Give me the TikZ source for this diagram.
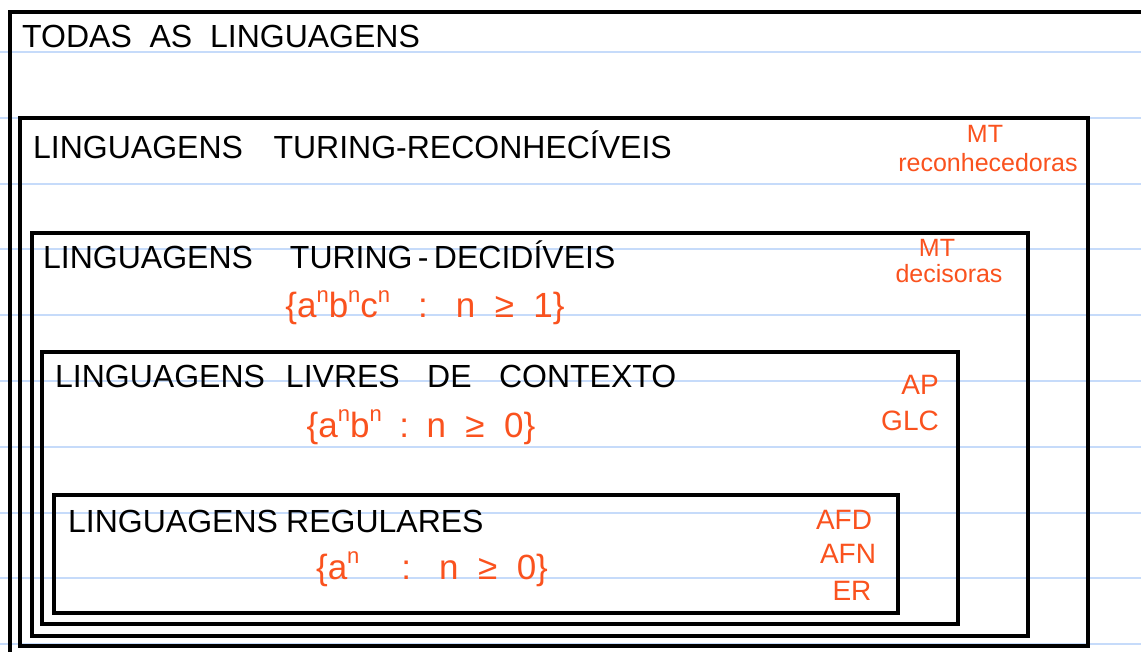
\documentclass[tikz,border=0pt]{standalone}
\usepackage{fontspec}
\usepackage{tikz}
\setmainfont{Liberation Sans}[WordSpace=2]
\definecolor{laranja}{RGB}{250, 82, 30}
\definecolor{pautaazul}{RGB}{198, 219, 250}
\newcommand{\pw}[1]{\raisebox{0.45em}{\fontsize{22}{22}\selectfont #1}}

\begin{document}
\begin{tikzpicture}[x=1pt, y=-1pt,
  caixa/.style={draw, line width=3.2pt, inner sep=0pt, outer sep=0pt},
  titulo/.style={anchor=base west, inner sep=0pt, font=\fontsize{32}{38}\selectfont},
  nota/.style={anchor=base, inner sep=0pt, text=laranja, font=\fontsize{28}{32}\selectfont},
  mini/.style={nota, font=\fontsize{25}{28}\selectfont},
  conj/.style={anchor=base, inner sep=0pt, text=laranja, font=\fontsize{35}{40}\selectfont}]
  \clip (0,0) rectangle (1141,652);
  \fill[white] (0,0) rectangle (1141,652);
  % linhas do caderno
  \foreach \k in {0,...,9}
    \draw[pautaazul, line width=2pt] (0,{52+65.8*\k}) -- (1141,{52+65.8*\k});
  % caixas aninhadas
  \node[caixa, minimum width=1150pt, minimum height=668pt] (todas) at (585,346) {};
  \node[caixa, minimum width=1068pt, minimum height=528pt] (reconhec) at (554,382) {};
  \node[caixa, minimum width=996pt, minimum height=403pt] (decid) at (530,434.5) {};
  \node[caixa, minimum width=916pt, minimum height=272pt] (livres) at (500,488) {};
  \node[caixa, minimum width=844pt, minimum height=118pt] (regul) at (476,554) {};
  % titulos
  \node[titulo] (tTodas) at (22,48) {TODAS AS LINGUAGENS};
  \node[titulo] (tRec) at (33,159) {LINGUAGENS\hspace{0.4em} TURING-RECONHECÍVEIS};
  \node[titulo] (tDec) at (43,269) {LINGUAGENS\hspace{0.6em} TURING\,-\,DECIDÍVEIS};
  \node[titulo] (tLivres) at (55,388) {LINGUAGENS\hspace{0.1em} LIVRES\hspace{0.3em} DE\hspace{0.3em} CONTEXTO};
  \node[titulo] (tReg) at (68,532) {LINGUAGENS\hspace{-0.3em} REGULARES};
  % exemplos
  \node[conj] (eDec) at (425,318) {\{a\pw{n}b\pw{n}c\pw{n}\hspace{0.8em}:\hspace{0.8em}n ≥ 1\}};
  \node[conj] (eLivres) at (421,437) {\{a\pw{n}b\pw{n}\hspace{0.5em}:\hspace{0.5em}n ≥ 0\}};
  \node[conj] (eReg) at (432,579) {\{a\pw{n}\hspace{1.2em}:\hspace{0.8em}n ≥ 0\}};
  % maquinas
  \node[mini] (mtRec) at (985,143) {MT};
  \node[mini] (mqRec) at (988,172) {reconhecedoras};
  \node[mini] (mtDec) at (937,257) {MT};
  \node[mini] (mqDec) at (949,283) {decisoras};
  \node[nota] (ap) at (920,395) {AP};
  \node[nota] (glc) at (910,430) {GLC};
  \node[nota] (afd) at (844,529) {AFD};
  \node[nota] (afn) at (848,563) {AFN};
  \node[nota] (er) at (852,600) {ER};
\end{tikzpicture}
\end{document}
